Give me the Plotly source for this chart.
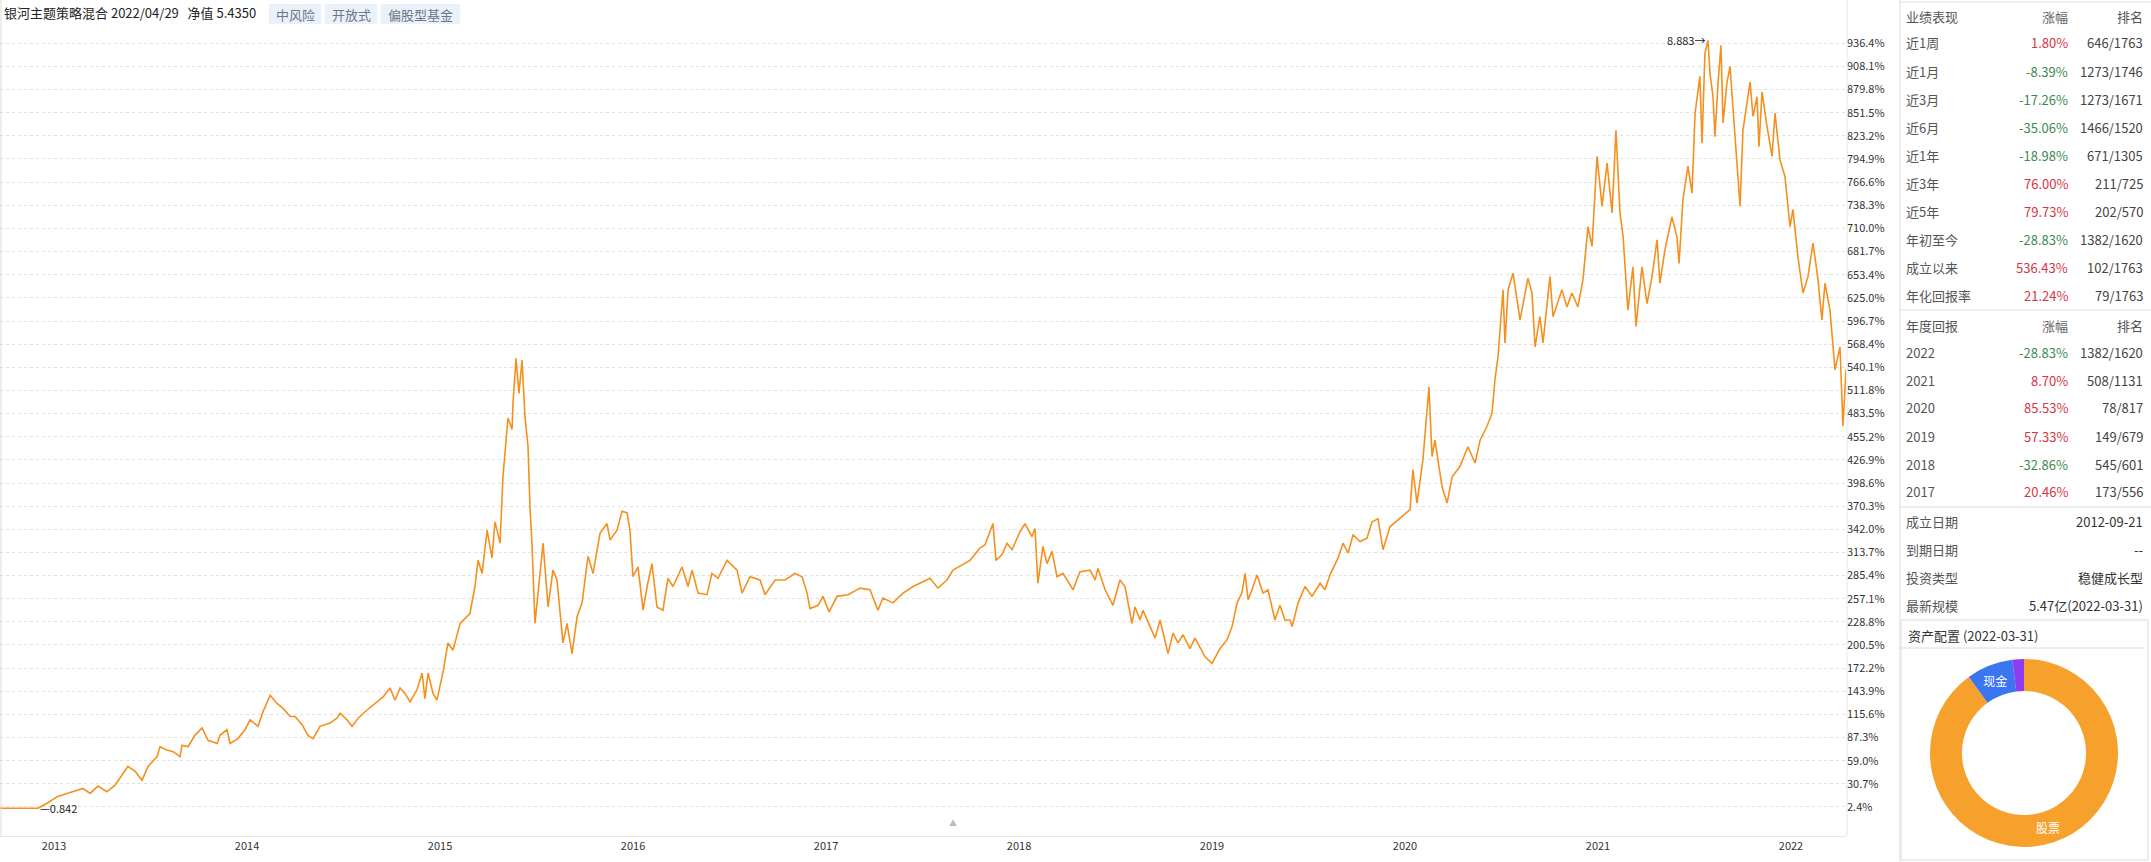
import plotly.graph_objects as go

W, H = 2151, 862
FONT = "Noto Sans CJK SC"

# ---- data (cumulative return %, x = decimal year) ----
x_years = [
    2012.72, 2012.917, 2012.964, 2013.016, 2013.067, 2013.119, 2013.15, 2013.187, 2013.228, 2013.274,
    2013.316, 2013.383, 2013.42, 2013.456, 2013.487, 2013.534, 2013.549, 2013.585, 2013.617, 2013.653,
    2013.663, 2013.694, 2013.73, 2013.767, 2013.798, 2013.845, 2013.86, 2013.896, 2013.912, 2013.953,
    2013.99, 2014.016, 2014.057, 2014.083, 2014.12, 2014.155, 2014.187, 2014.223, 2014.249, 2014.285,
    2014.316, 2014.342, 2014.378, 2014.43, 2014.466, 2014.482, 2014.518, 2014.544, 2014.575, 2014.622,
    2014.674, 2014.705, 2014.741, 2014.767, 2014.793, 2014.819, 2014.845, 2014.881, 2014.907, 2014.922,
    2014.938, 2014.964, 2014.984, 2015.016, 2015.041, 2015.067, 2015.104,
    2015.155, 2015.181, 2015.197, 2015.218, 2015.244, 2015.269, 2015.285, 2015.311, 2015.326, 2015.352,
    2015.373, 2015.378, 2015.394, 2015.409, 2015.425, 2015.44, 2015.456, 2015.466, 2015.477, 2015.492,
    2015.518, 2015.534, 2015.56, 2015.585, 2015.606, 2015.622, 2015.637, 2015.658, 2015.684, 2015.71,
    2015.736, 2015.767, 2015.793, 2015.829, 2015.865, 2015.881, 2015.917, 2015.943, 2015.969, 2015.984,
    2016.0, 2016.026, 2016.052, 2016.073, 2016.098, 2016.124, 2016.155, 2016.181, 2016.207, 2016.254,
    2016.285, 2016.306, 2016.337, 2016.383, 2016.409, 2016.44, 2016.487, 2016.539, 2016.565, 2016.606,
    2016.658, 2016.684, 2016.736, 2016.788, 2016.839, 2016.876, 2016.902, 2016.917, 2016.959, 2016.984,
    2017.016, 2017.057, 2017.114, 2017.176, 2017.228, 2017.269, 2017.295, 2017.347, 2017.399, 2017.451,
    2017.487, 2017.539, 2017.58, 2017.627, 2017.658, 2017.705, 2017.746, 2017.798, 2017.824, 2017.865,
    2017.881, 2017.912, 2017.938, 2017.964, 2018.005, 2018.031, 2018.067, 2018.083, 2018.098, 2018.124,
    2018.145, 2018.171, 2018.197, 2018.228, 2018.28, 2018.316, 2018.368, 2018.394, 2018.409, 2018.446,
    2018.487, 2018.523, 2018.549, 2018.585, 2018.601, 2018.627, 2018.642, 2018.679, 2018.705, 2018.731,
    2018.772, 2018.798, 2018.824, 2018.85, 2018.886, 2018.912, 2018.938, 2018.964, 2019.0, 2019.041,
    2019.078, 2019.104, 2019.13, 2019.155, 2019.171, 2019.187, 2019.207, 2019.233, 2019.264, 2019.29,
    2019.326, 2019.352, 2019.378, 2019.404, 2019.415, 2019.446, 2019.482, 2019.518, 2019.56, 2019.585,
    2019.611, 2019.653, 2019.679, 2019.705, 2019.731, 2019.767, 2019.803, 2019.829, 2019.86, 2019.886,
    2019.922, 2020.026, 2020.041, 2020.062, 2020.093, 2020.124, 2020.14, 2020.155, 2020.192, 2020.218,
    2020.244, 2020.285, 2020.326, 2020.363, 2020.389, 2020.425, 2020.451, 2020.466, 2020.482, 2020.508,
    2020.518, 2020.534, 2020.56, 2020.596, 2020.637, 2020.658, 2020.674, 2020.699, 2020.715, 2020.751,
    2020.767, 2020.813, 2020.839, 2020.865, 2020.896, 2020.922, 2020.948, 2020.969, 2020.995, 2021.021,
    2021.047, 2021.073, 2021.093, 2021.114, 2021.13, 2021.155, 2021.181, 2021.197, 2021.228, 2021.254,
    2021.28, 2021.306, 2021.321, 2021.347, 2021.383, 2021.409, 2021.42, 2021.44, 2021.466, 2021.487,
    2021.503, 2021.528, 2021.539, 2021.554, 2021.57, 2021.58, 2021.596, 2021.606, 2021.622, 2021.637,
    2021.648, 2021.668, 2021.684, 2021.699, 2021.72, 2021.736, 2021.751, 2021.772, 2021.788, 2021.803,
    2021.824, 2021.834, 2021.85, 2021.876, 2021.902, 2021.917, 2021.943, 2021.969, 2021.995, 2022.01,
    2022.036, 2022.062, 2022.088, 2022.114, 2022.14, 2022.16, 2022.176, 2022.202, 2022.228, 2022.254,
    2022.269, 2022.285]
returns_pct = [
    0.8, 0.8, 6.9, 15, 19, 23, 25, 19, 28, 21,
    29, 52, 46, 35, 52, 64, 76, 72, 70, 64,
    78, 76, 90, 99, 84, 80, 90, 97, 80, 86,
    97, 109, 101, 119, 139, 129, 123, 113, 113, 103,
    90, 86, 101, 105, 111, 117, 109, 101, 111, 121,
    131, 137, 148, 133, 148, 141, 131, 146, 166, 135,
    166, 141, 133, 168, 203, 194, 227,
    239, 272, 304, 288, 341, 307, 351, 325, 406, 478,
    464, 496, 551, 508, 549, 480, 443, 370, 321, 227,
    288, 325, 247, 292, 280, 239, 203, 227, 190, 235,
    252, 309, 288, 337, 349, 329, 341, 364, 362, 341,
    284, 296, 243, 272, 300, 247, 243, 282, 272, 296,
    272, 292, 264, 262, 288, 282, 304, 292, 264, 284,
    280, 262, 280, 280, 288, 284, 264, 245, 249, 260,
    241, 260, 262, 270, 268, 243, 258, 252, 264, 272,
    276, 282, 270, 280, 292, 298, 304, 319, 323, 349,
    304, 311, 325, 317, 339, 349, 333, 343, 276, 321,
    300, 315, 284, 288, 268, 290, 292, 280, 294, 268,
    249, 280, 272, 227, 247, 231, 243, 223, 209, 231,
    190, 215, 203, 213, 196, 209, 198, 186, 178, 196,
    207, 223, 252, 264, 288, 256, 268, 286, 264, 268,
    231, 249, 231, 231, 223, 252, 272, 260, 276, 268,
    286, 307, 325, 313, 335, 327, 331, 351, 355, 317,
    345, 366, 415, 374, 427, 516, 431, 451, 394, 374,
    406, 419, 443, 423, 451, 468, 484, 525, 553, 635,
    570, 635, 655, 598, 649, 631, 565, 602, 570, 651,
    602, 635, 614, 631, 614, 647, 712, 688, 798, 737,
    790, 729, 830, 729, 700, 610, 663, 590, 663, 618,
    651, 696, 643, 684, 724, 700, 667, 745, 786, 753,
    851, 896, 814, 924, 940, 900, 871, 822, 888, 934,
    839, 888, 908, 855, 790, 737, 830, 867, 889, 847,
    871, 810, 877, 834, 798, 851, 794, 773, 712, 733,
    675, 631, 651, 692, 647, 598, 643, 610, 537, 565,
    468, 537]

year_ticks = [2013, 2014, 2015, 2016, 2017, 2018, 2019, 2020, 2021, 2022]
y_tick_labels = ["2.4%", "30.7%", "59.0%", "87.3%", "115.6%", "143.9%", "172.2%", "200.5%", "228.8%",
                 "257.1%", "285.4%", "313.7%", "342.0%", "370.3%", "398.6%", "426.9%", "455.2%",
                 "483.5%", "511.8%", "540.1%", "568.4%", "596.7%", "625.0%", "653.4%", "681.7%",
                 "710.0%", "738.3%", "766.6%", "794.9%", "823.2%", "851.5%", "879.8%", "908.1%", "936.4%"]
y_tick_vals = [float(s.rstrip("%")) for s in y_tick_labels]

start_nav, peak_nav = "0.842", "8.883"

perf_rows = [("近1周", "1.80%", "646/1763"), ("近1月", "-8.39%", "1273/1746"),
             ("近3月", "-17.26%", "1273/1671"), ("近6月", "-35.06%", "1466/1520"),
             ("近1年", "-18.98%", "671/1305"), ("近3年", "76.00%", "211/725"),
             ("近5年", "79.73%", "202/570"), ("年初至今", "-28.83%", "1382/1620"),
             ("成立以来", "536.43%", "102/1763"), ("年化回报率", "21.24%", "79/1763")]
year_rows = [("2022", "-28.83%", "1382/1620"), ("2021", "8.70%", "508/1131"),
             ("2020", "85.53%", "78/817"), ("2019", "57.33%", "149/679"),
             ("2018", "-32.86%", "545/601"), ("2017", "20.46%", "173/556")]
info_rows = [("成立日期", "2012-09-21"), ("到期日期", "--"), ("投资类型", "稳健成长型"),
             ("最新规模", "5.47亿(2022-03-31)")]
alloc_labels = ["股票", "现金", "其他"]
alloc_values = [90.0, 8.0, 2.0]
alloc_colors = ["#f7a12d", "#3b76f0", "#8f3cf5"]

# ---- helpers ----
def px(x):
    return x / W
def py(y):
    return 1 - y / H

RED, GREEN, GREY = "#d6353f", "#3c8a4e", "#444444"

fig = go.Figure()
fig.add_trace(go.Scatter(x=x_years, y=returns_pct, mode="lines",
                         line=dict(color="#f5901e", width=1.6), hoverinfo="skip"))

fig.add_trace(go.Pie(labels=alloc_labels, values=alloc_values, hole=0.66, sort=False,
                     direction="clockwise", rotation=0,
                     marker=dict(colors=alloc_colors, line=dict(width=0)),
                     texttemplate=["%{label}", "%{label}", ""], textposition="inside",
                     insidetextorientation="horizontal",
                     textfont=dict(color="white", size=12, family=FONT),
                     domain=dict(x=[px(1930), px(2118)], y=[py(847), py(659)]),
                     showlegend=False, hoverinfo="skip"))

fig.update_layout(
    width=W, height=H, margin=dict(l=0, r=0, t=0, b=0),
    paper_bgcolor="white", plot_bgcolor="white", showlegend=False,
    font=dict(family=FONT, size=12, color="#333"),
    xaxis=dict(domain=[0, px(1846)], range=[2012.72, 2022.285], tickvals=year_ticks,
               ticktext=[str(v) for v in year_ticks], showgrid=False, zeroline=False,
               showline=True, linecolor="#e6e6e6", ticks="", tickfont=dict(size=11, color="#333")),
    yaxis=dict(domain=[py(836), 1], range=[-33.1, 989.3], side="right", tickvals=y_tick_vals,
               ticktext=y_tick_labels, showgrid=True, gridcolor="#e0e0e0", griddash="dot",
               zeroline=False, ticks="", tickfont=dict(size=11, color="#333")),
)

shapes = []
ann = []
shapes.append(dict(type="line", xref="paper", yref="paper", x0=px(1), x1=px(1), y0=py(0), y1=py(836),
                   line=dict(color="#dddddd", width=1)))
shapes.append(dict(type="line", xref="paper", yref="paper", x0=px(1847), x1=px(1847), y0=py(0), y1=py(836),
                   line=dict(color="#e6e6e6", width=1)))
shapes.append(dict(type="line", xref="paper", yref="paper", x0=px(1900), x1=px(1900), y0=py(0), y1=py(862),
                   line=dict(color="#dddddd", width=1)))
for yy in [2, 310, 507]:
    shapes.append(dict(type="line", xref="paper", yref="paper", x0=px(1900), x1=px(2151), y0=py(yy), y1=py(yy),
                       line=dict(color="#dddddd", width=1)))
shapes.append(dict(type="rect", xref="paper", yref="paper", x0=px(1901), x1=px(2148), y0=py(620), y1=py(860),
                   line=dict(color="#dddddd", width=1)))
shapes.append(dict(type="line", xref="paper", yref="paper", x0=px(1901), x1=px(2145), y0=py(648), y1=py(648),
                   line=dict(color="#dddddd", width=1)))

ann.append(dict(xref="paper", yref="paper", x=px(2), y=py(13), xanchor="left", yanchor="middle",
                text="银河主题策略混合 2022/04/29   净值 5.4350", showarrow=False,
                font=dict(size=13, color="#222")))
for (x0, x1, t) in [(269, 321, "中风险"), (325, 377, "开放式"), (381, 460, "偏股型基金")]:
    shapes.append(dict(type="rect", xref="paper", yref="paper", x0=px(x0), x1=px(x1), y0=py(24), y1=py(4),
                       fillcolor="#e9f1fb", line=dict(width=0)))
    ann.append(dict(xref="paper", yref="paper", x=px((x0 + x1) / 2), y=py(14), xanchor="center",
                    yanchor="middle", text=t, showarrow=False, font=dict(size=13, color="#6b7785")))

ann.append(dict(x=x_years[1], y=returns_pct[1], xref="x", yref="y", text="—" + start_nav, showarrow=False,
                xanchor="left", yanchor="middle", xshift=0, font=dict(size=11, color="#222")))
imax = returns_pct.index(max(returns_pct))
ann.append(dict(x=x_years[imax], y=returns_pct[imax], xref="x", yref="y", text=peak_nav + "→",
                showarrow=False, xanchor="right", yanchor="middle", xshift=-1,
                font=dict(size=11, color="#222")))
ann.append(dict(xref="paper", yref="paper", x=px(953), y=py(830), text="▲", showarrow=False,
                font=dict(size=8, color="#bbbbbb")))

def row(y, a, b, c, bcolor, header=False):
    col = "#555" if header else GREY
    ann.append(dict(xref="paper", yref="paper", x=px(1904), y=py(y), xanchor="left", yanchor="middle",
                    text=a, showarrow=False, font=dict(size=13, color="#555")))
    ann.append(dict(xref="paper", yref="paper", x=px(2070), y=py(y), xanchor="right", yanchor="middle",
                    text=b, showarrow=False, font=dict(size=13, color=bcolor)))
    if c is not None:
        ann.append(dict(xref="paper", yref="paper", x=px(2145), y=py(y), xanchor="right", yanchor="middle",
                        text=c, showarrow=False, font=dict(size=13, color=col)))

def vcolor(v):
    return GREEN if v.startswith("-") else RED

row(16, "业绩表现", "涨幅", "排名", "#666", header=True)
for i, (a, b, c) in enumerate(perf_rows):
    row(43 + i * 28.1, a, b, c, vcolor(b))
row(325, "年度回报", "涨幅", "排名", "#666", header=True)
for i, (a, b, c) in enumerate(year_rows):
    row(352 + i * 28, a, b, c, vcolor(b))
for i, (a, b) in enumerate(info_rows):
    y = 521 + i * 28
    ann.append(dict(xref="paper", yref="paper", x=px(1904), y=py(y), xanchor="left", yanchor="middle",
                    text=a, showarrow=False, font=dict(size=13, color="#555")))
    ann.append(dict(xref="paper", yref="paper", x=px(2145), y=py(y), xanchor="right", yanchor="middle",
                    text=b, showarrow=False, font=dict(size=13, color="#333")))
ann.append(dict(xref="paper", yref="paper", x=px(1906), y=py(635), xanchor="left", yanchor="middle",
                text="资产配置 (2022-03-31)", showarrow=False, font=dict(size=13, color="#333")))

fig.update_layout(shapes=shapes, annotations=ann)
fig.write_html("out.html", config={"displayModeBar": False},
               post_script="document.body.style.margin='0';document.body.style.overflow='hidden';")
